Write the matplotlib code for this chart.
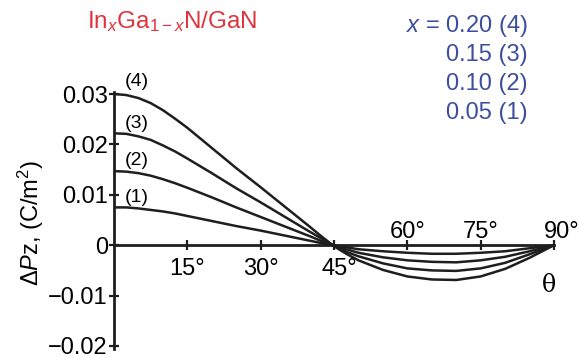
import matplotlib
matplotlib.use("Agg")
import matplotlib.pyplot as plt

# ------------------------------------------------------------------
# Data
# ------------------------------------------------------------------
theta = [0, 2.5, 5, 7.5, 10, 12.5, 15, 20, 25, 30, 35, 40, 42.5, 45, 47.5, 50,
         55, 60, 65, 70, 75, 80, 85, 90]

dpz_4 = [0.0300, 0.0298, 0.0292, 0.0282, 0.0268, 0.0251, 0.0233, 0.0193, 0.0153, 0.0115,
         0.0076, 0.0037, 0.0017, -0.0002, -0.0017, -0.0030,
         -0.0049, -0.0062, -0.0068, -0.0069, -0.0062, -0.0047, -0.0025, 0.0]
dpz_3 = [0.0222, 0.0221, 0.0216, 0.0209, 0.0198, 0.0186, 0.0172, 0.0143, 0.0113, 0.0085,
         0.0056, 0.0027, 0.0013, -0.0001, -0.0013, -0.0022,
         -0.0036, -0.0046, -0.0050, -0.0051, -0.0046, -0.0035, -0.0018, 0.0]
dpz_2 = [0.0147, 0.0146, 0.0143, 0.0138, 0.0131, 0.0123, 0.0114, 0.0095, 0.0075, 0.0056,
         0.0037, 0.0018, 0.0008, -0.0001, -0.0008, -0.0015,
         -0.0024, -0.0030, -0.0033, -0.0034, -0.0030, -0.0023, -0.0012, 0.0]
dpz_1 = [0.0075, 0.0075, 0.0073, 0.0070, 0.0067, 0.0063, 0.0058, 0.0048, 0.0038, 0.0029,
         0.0019, 0.0009, 0.0004, 0.0, -0.0004, -0.0008,
         -0.0012, -0.0015, -0.0017, -0.0017, -0.0015, -0.0012, -0.0006, 0.0]

curve_tags = ["(4)", "(3)", "(2)", "(1)"]
x_values = ["0.20", "0.15", "0.10", "0.05"]

yticks = [0.03, 0.02, 0.01, 0.0, -0.01, -0.02]
ytick_labels = ["0.03", "0.02", "0.01", "0", "\u22120.01", "\u22120.02"]
xticks = [15, 30, 45, 60, 75, 90]
xticks_above = [False, False, False, True, True, True]

# ------------------------------------------------------------------
# Style
# ------------------------------------------------------------------
plt.rcParams["font.family"] = ["Liberation Sans", "DejaVu Sans"]
plt.rcParams["mathtext.fontset"] = "custom"
plt.rcParams["mathtext.rm"] = "Liberation Sans"
plt.rcParams["mathtext.it"] = "Liberation Sans:italic"

LINE_COLOR = "#1e1e1e"
RED = "#e0343c"
BLUE = "#3d4e9e"
FS = 17

fig = plt.figure(figsize=(5.79, 3.58), dpi=100)
ax = fig.add_axes([114 / 579, 0.0265, 440 / 579, 0.7179])

for ys in (dpz_4, dpz_3, dpz_2, dpz_1):
    ax.plot(theta, ys, color=LINE_COLOR, lw=1.8, solid_joinstyle="round")

ax.set_xlim(0, 90)
ax.set_ylim(-0.0205, 0.0305)

for side in ("top", "right"):
    ax.spines[side].set_visible(False)
ax.spines["bottom"].set_position(("data", 0))
for side in ("left", "bottom"):
    ax.spines[side].set_linewidth(2.0)
    ax.spines[side].set_color(LINE_COLOR)

ax.set_yticks(yticks, ytick_labels)
ax.set_xticks(xticks, [""] * len(xticks))
ax.tick_params(axis="both", direction="inout", length=7, width=1.6, color=LINE_COLOR)
ax.tick_params(axis="y", labelsize=FS, pad=1)

# x tick labels, some under and some over the axis
for t, above in zip(xticks, xticks_above):
    if above:
        ax.text(t + (1.5 if t == 90 else 0), 0.0027, f"{t}\u00b0", ha="center",
                va="center", fontsize=FS)
    else:
        ax.text(t + (1.0 if t == 45 else 0), -0.0048, f"{t}\u00b0", ha="center",
                va="center", fontsize=FS)

ax.text(89, -0.0080, "\u03b8", ha="center", va="center", fontsize=FS,
        family="DejaVu Serif")

# curve tags near the y axis
tag_y = [0.0324, 0.0242, 0.0169, 0.0094]
for tag, ty in zip(curve_tags, tag_y):
    ax.text(2.2, ty, tag, ha="left", va="center", fontsize=14)

ax.set_ylabel(r"$\Delta \mathit{P}$z, (C/m$^2$)", fontsize=FS, labelpad=2)
ax.yaxis.set_label_coords(-0.154, 0.49)
ax.patch.set_alpha(0)

fig.text(172 / 579, 1 - 22 / 358, r"In$_{\mathit{x}}$Ga$_{1-\mathit{x}}$N/GaN",
         color=RED, fontsize=17.5, ha="center", va="center")

for i, (xv, tag) in enumerate(zip(x_values, curve_tags)):
    label = f"{xv} {tag}"
    if i == 0:
        label = r"$\mathit{x}$ = " + label
    fig.text(528 / 579, 1 - (26 + 29 * i) / 358, label, color=BLUE,
             fontsize=FS, ha="right", va="center")

fig.savefig("out.png", dpi=100)
